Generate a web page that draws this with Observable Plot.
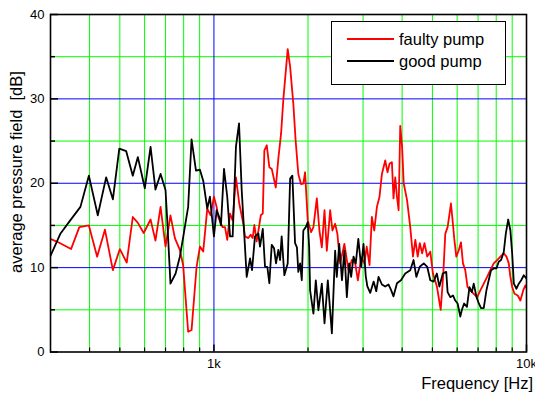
<!DOCTYPE html>
<html>
<head>
<meta charset="utf-8">
<script src="https://cdn.jsdelivr.net/npm/d3@7"></script>
<script src="https://cdn.jsdelivr.net/npm/@observablehq/plot@0.6"></script>
<style>
  html, body { margin: 0; padding: 0; background: #fff; }
  #chart { width: 535px; height: 394px; overflow: hidden; }
</style>
</head>
<body>
<div id="chart"></div>
<script>
// ---- data (Hz, dB) ----
const faultyFreq = [300,320,349,371,398,423,448,475,500,526,550,571,596,627,650,675,700,726,750,778,797,827,848,880,902,924,952,976,1000,1020,1032,1066,1085,1103,1126,1148,1176,1205,1242,1257,1288,1311,1330,1347,1370,1394,1412,1433,1450,1476,1504,1531,1577,1607,1640,1668,1722,1753,1795,1826,1862,1899,1932,1957,1996,2046,2081,2134,2175,2214,2258,2297,2354,2394,2442,2483,2534,2614,2693,2763,2831,2888,2958,3030,3082,3146,3201,3258,3322,3386,3447,3532,3592,3645,3710,3754,3802,3851,3898,3945,4000,4047,4148,4247,4333,4409,4487,4556,4636,4716,4813,4922,5020,5166,5315,5418,5497,5592,5673,5732,5788,5874,5962,6064,6171,6262,6369,6478,6611,6779,6955,7117,7298,7483,7662,7856,8055,8249,8458,8628,8776,8880,9000,9154,9378,9560,9759,9919,10000];
const faultyDb = [13.4,12.95,12.2,14.8,15.0,11.3,14.5,9.7,12.2,10.6,16.0,15.3,14.1,15.7,13.2,17.2,12.5,16.2,13.5,12.1,10.3,2.4,2.6,10.1,12.5,11.9,17.0,16.2,18.4,17.2,16.0,14.8,14.8,13.3,16.4,15.6,20.7,17.6,15.2,13.7,13.5,13.9,13.5,15.05,13.1,14.8,16.2,16.4,23.9,24.5,21.9,21.7,19.5,22.9,25.9,30.0,35.9,33.8,29.4,25.0,21.1,19.9,19.95,21.3,15.6,14.2,14.8,18.2,14.4,12.4,16.8,12.0,16.8,14.4,15.2,14.0,10.5,12.8,9.7,10.9,10.5,8.5,11.2,10.5,12.5,10.3,16.0,14.4,17.2,18.4,21.1,22.7,21.3,22.3,22.5,18.2,20.7,18.4,16.8,26.8,24.3,20.0,18.0,14.8,11.3,13.3,11.3,12.9,11.7,12.9,11.3,11.9,9.3,7.8,5.0,9.3,14.0,14.8,16.4,17.6,16.0,13.4,11.3,12.0,13.0,10.5,9.7,7.7,7.3,6.9,6.5,7.3,8.1,8.9,9.7,10.5,10.9,11.3,11.7,11.3,10.5,8.9,7.7,6.9,6.7,6.1,7.3,7.9,7.6];

const goodFreq = [300,323,347,374,398,425,452,475,498,524,550,571,601,627,650,675,700,708,726,754,778,801,827,848,876,902,924,952,971,1000,1020,1040,1053,1077,1103,1126,1148,1176,1203,1227,1273,1305,1324,1353,1387,1404,1433,1457,1482,1504,1531,1557,1580,1607,1628,1647,1680,1722,1753,1782,1818,1843,1862,1887,1910,1932,1967,1996,2017,2031,2081,2118,2159,2214,2258,2314,2384,2442,2472,2517,2568,2614,2662,2708,2748,2796,2843,2897,2958,3010,3060,3095,3162,3243,3306,3362,3447,3532,3618,3683,3754,3851,3966,4093,4247,4352,4442,4555,4692,4813,4922,5042,5166,5264,5398,5536,5592,5705,5818,5917,6021,6141,6213,6315,6448,6571,6689,6779,6920,7038,7155,7298,7443,7570,7703,7856,8012,8150,8292,8458,8584,8737,8880,9000,9110,9288,9447,9616,9803,10000];
const goodDb = [11.4,14.05,15.6,17.2,20.9,16.2,20.7,18.1,24.1,23.8,20.9,23.1,19.4,24.3,19.25,21.1,19.2,16.0,8.1,9.3,11.3,14.05,17.2,25.2,21.5,21.6,20.3,17.0,18.4,13.7,16.8,16.0,15.0,21.7,18.4,13.7,13.7,24.3,27.1,19.2,8.9,11.1,9.7,13.7,14.05,12.5,14.6,10.1,10.1,8.15,12.7,12.3,10.5,12.1,10.9,13.7,9.1,10.5,20.55,20.9,12.9,12.4,9.5,10.5,8.5,14.4,14.8,15.4,12.4,7.3,4.55,8.5,4.95,8.1,3.4,8.5,2.2,12.0,8.9,12.8,8.5,12.0,6.5,10.5,8.9,11.3,10.5,13.4,10.1,12.8,9.0,7.8,7.0,8.35,7.2,8.9,8.0,7.75,8.0,7.4,6.6,8.15,8.5,9.3,9.7,10.9,8.9,10.1,10.5,10.1,8.5,8.35,9.3,7.75,9.3,9.5,7.1,6.5,6.7,6.1,5.75,4.2,5.0,5.75,5.35,7.7,7.1,8.1,6.5,5.75,5.2,5.2,7.3,8.5,9.7,9.9,9.9,10.7,10.9,11.85,14.0,15.7,14.4,11.65,8.1,7.5,8.1,8.5,9.1,8.7];

const yMajor = [0, 10, 20, 30, 40];
const yMinor = [5, 15, 25, 35];
const xMajor = [1000, 10000];
const xMinor = [400, 500, 600, 700, 800, 900, 2000, 3000, 4000, 5000, 6000, 7000, 8000, 9000];
const xTickLabels = ["1k", "10k"];
const seriesNames = ["faulty pump", "good pump"];
const seriesColors = ["#ff0000", "#000000"];

const faulty = faultyFreq.map((f, i) => ({f, db: faultyDb[i]}));
const good = goodFreq.map((f, i) => ({f, db: goodDb[i]}));

// ---- layout ----
const W = 535, H = 394;
const mL = 50, mR = 9, mT = 14, mB = 42.5;
const pW = W - mL - mR, pH = H - mT - mB;
const FONT = "'Liberation Sans', Arial, Helvetica, sans-serif";

const svg = Plot.plot({
  width: W, height: H,
  marginLeft: mL, marginRight: mR, marginTop: mT, marginBottom: mB,
  style: {fontFamily: FONT, fontSize: "13px", background: "#fff", color: "#000"},
  x: {type: "log", domain: [300, 10000]},
  y: {domain: [0, 40]},
  marks: [
    Plot.ruleY(yMinor, {stroke: "#00ff00", strokeWidth: 1}),
    Plot.ruleX(xMinor, {stroke: "#00ff00", strokeWidth: 1}),
    Plot.ruleY(yMajor.filter(v => v > 0 && v < 40), {stroke: "#0000ff", strokeWidth: 1}),
    Plot.ruleX([1000], {stroke: "#0000ff", strokeWidth: 1}),
    Plot.line(faulty, {x: "f", y: "db", stroke: seriesColors[0], strokeWidth: 1.8, clip: true}),
    Plot.line(good, {x: "f", y: "db", stroke: seriesColors[1], strokeWidth: 1.8, clip: true}),
    Plot.tickX(xMinor, {x: d => d, stroke: "#000", strokeWidth: 1.2, insetTop: pH - 4}),
    Plot.tickX(xMajor, {x: d => d, stroke: "#000", strokeWidth: 1.5, insetTop: pH - 7}),
    Plot.tickY(yMinor, {y: d => d, stroke: "#000", strokeWidth: 1.5, insetRight: pW - 5}),
    Plot.tickY(yMajor, {y: d => d, stroke: "#000", strokeWidth: 1.5, insetRight: pW - 8}),
    Plot.frame({stroke: "#000", strokeWidth: 1.6}),
    Plot.axisY({ticks: yMajor, tickSize: 0, tickPadding: 6, label: null, fontSize: 13}),
    Plot.axisX({ticks: xMajor, tickFormat: d => xTickLabels[xMajor.indexOf(d)], tickSize: 0, tickPadding: 7, label: null, fontSize: 13})
  ]
});
document.getElementById("chart").appendChild(svg);

// ---- annotations: axis titles and legend ----
const s = d3.select(svg);
s.append("text")
  .attr("transform", "translate(22,172) rotate(-90)")
  .attr("text-anchor", "middle")
  .style("font-family", FONT).style("font-size", "16.5px").attr("fill", "#000")
  .attr("xml:space", "preserve")
  .text("average pressure field  [dB]");
s.append("text")
  .attr("x", 533).attr("y", 389)
  .attr("text-anchor", "end")
  .style("font-family", FONT).style("font-size", "16.5px").attr("fill", "#000")
  .text("Frequency [Hz]");

const lg = s.append("g").attr("text-anchor", "start");
lg.append("rect").attr("x", 331.5).attr("y", 21.5).attr("width", 174).attr("height", 63)
  .attr("fill", "#fff").attr("stroke", "#000").attr("stroke-width", 1);
const rowY = [39, 61];
seriesNames.forEach((name, i) => {
  lg.append("line").attr("x1", 347).attr("x2", 394).attr("y1", rowY[i]).attr("y2", rowY[i])
    .attr("stroke", seriesColors[i]).attr("stroke-width", 1.8);
  lg.append("text").attr("x", 399).attr("y", rowY[i] + 5.5)
    .attr("text-anchor", "start")
    .style("font-family", FONT).style("font-size", "16.5px").attr("fill", "#000")
    .text(name);
});
</script>
</body>
</html>
